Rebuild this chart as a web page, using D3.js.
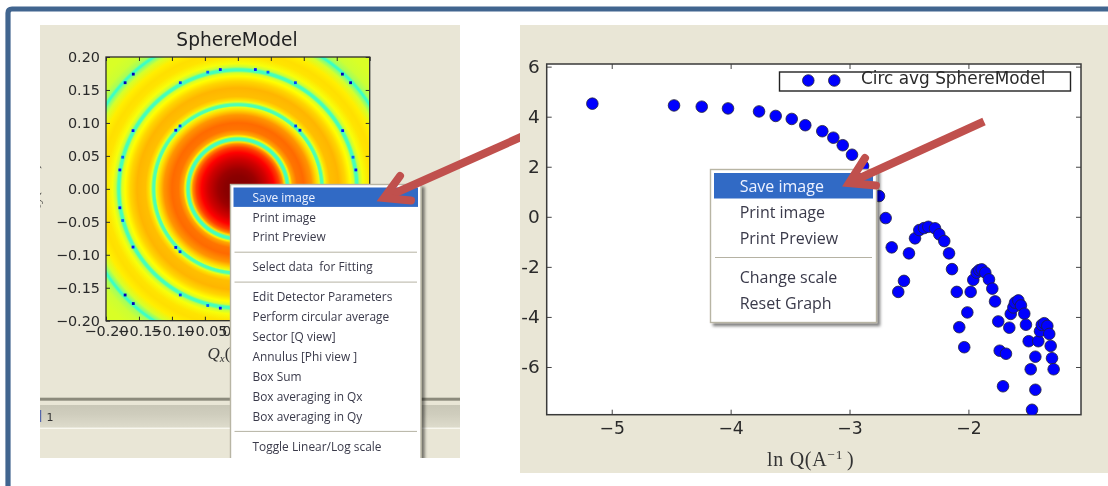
<!DOCTYPE html>
<html><head><meta charset="utf-8">
<script src="https://cdn.jsdelivr.net/npm/d3@7"></script>
<style>
html,body{margin:0;padding:0;background:#fff;overflow:hidden}
svg{display:block;filter:blur(0.4px)}
text{font-family:"DejaVu Sans",sans-serif}
.menu text{font-family:"Open Sans",sans-serif;fill:#3a3a4a}
text.serif{font-family:"Liberation Serif",serif}
</style></head><body>
<svg id="c" width="1108" height="486"></svg>
<script>
// ---- radial profile of the SphereModel intensity map (read outward from the centre)
const ringQ = [0,.02,.03,.045,.055,.063,.068,.071,.074,.077,.08,.083,.09,.1,.112,.12,.124,.126,.129,.132,.135,.14,.153,.163,.171,.176,.179,.182,.185,.19,.2,.208,.218,.228,.234,.236,.238,.241,.25,.265,.285];
const ringLevel = [1,.99,.975,.93,.89,.83,.76,.68,.43,.43,.66,.73,.78,.79,.75,.68,.62,.44,.44,.62,.68,.71,.72,.69,.65,.60,.43,.43,.58,.64,.675,.68,.665,.6,.5,.42,.42,.54,.59,.605,.605];
// low-intensity pixels lying on the rings (|Qx|, |Qy|)
const speckQx = [.0266,.0457,.0873,.1586,.171,.159,.1747,.179,.0877,.0942];
const speckQy = [.181,.177,.161,.174,.161,.0883,.048,.0287,.0954,.0889];
const speckLevel = [.13,.2,.17,.05,.05,.13,.2,.13,.17,.13];
const speckSignX = [-1,1,-1,1];
const speckSignY = [1,1,-1,-1];
const heatTicks = [-.2,-.15,-.1,-.05,0,.05,.1,.15,.2];
// ---- circular average
const lnQ = [-5.163,-4.476,-4.243,-4.022,-3.761,-3.621,-3.486,-3.372,-3.229,-3.136,-3.057,-2.979,-2.886,-2.828,-2.752,-2.696,-2.645,-2.590,-2.542,-2.500,-2.449,-2.413,-2.373,-2.337,-2.281,-2.245,-2.203,-2.163,-2.138,-2.098,-2.077,-2.035,-2.009,-1.981,-1.959,-1.931,-1.909,-1.888,-1.858,-1.827,-1.799,-1.776,-1.749,-1.737,-1.684,-1.709,-1.656,-1.644,-1.622,-1.608,-1.580,-1.558,-1.530,-1.516,-1.493,-1.476,-1.465,-1.437,-1.437,-1.412,-1.398,-1.383,-1.362,-1.336,-1.320,-1.308,-1.297,-1.283];
const lnI = [4.52,4.45,4.40,4.33,4.21,4.03,3.91,3.66,3.42,3.16,2.86,2.48,2.03,1.35,.83,-.05,-1.22,-3.00,-2.56,-1.46,-.86,-.53,-.45,-.40,-.46,-.70,-.97,-1.46,-2.09,-3.00,-4.41,-5.21,-3.82,-3.00,-2.52,-2.23,-2.13,-2.10,-2.23,-2.50,-2.87,-3.38,-4.18,-5.35,-5.47,-6.77,-4.43,-3.88,-3.62,-3.43,-3.34,-3.54,-3.87,-4.31,-4.97,-6.09,-7.71,-6.91,-5.59,-4.97,-4.57,-4.32,-4.25,-4.36,-4.68,-5.16,-5.65,-6.09];
const xTickVals = [-5,-4,-3,-2];
const yTickVals = [-6,-4,-2,0,2,4,6];
const legendLabel = "Circ avg SphereModel";
// ---- context menus
const leftMenuItems = ["Save image","Print image","Print Preview",null,"Select data  for Fitting",null,"Edit Detector Parameters","Perform circular average","Sector [Q view]","Annulus [Phi view ]","Box Sum","Box averaging in Qx","Box averaging in Qy",null,"Toggle Linear/Log scale"];
const rightMenuItems = ["Save image","Print image","Print Preview",null,"Change scale","Reset Graph"];

const svg = d3.select("#c");
const panel = "#e9e6d6", ink = "#2b2b2b", arrowCol = "#c0504d";
const jet = d3.scaleLinear()
  .domain([0,.11,.35,.5,.65,.89,1])
  .range(["#00007f","#0000ff","#00ffff","#80ff80","#ffff00","#ff0000","#7f0000"]);
const defs = svg.append("defs");
const shadow = defs.append("filter").attr("id","sh").attr("x","-10%").attr("y","-10%").attr("width","125%").attr("height","125%");
shadow.append("feDropShadow").attr("dx",3).attr("dy",3).attr("stdDeviation",1.4).attr("flood-color","#000").attr("flood-opacity",.5);

// outer frame
svg.append("path").attr("d","M8,486V13Q8,9 12,9H1108").attr("fill","none").attr("stroke","#41658f").attr("stroke-width",5.2);

// ================= left panel
defs.append("clipPath").attr("id","leftClip").append("rect").attr("x",40).attr("y",25).attr("width",420).attr("height",433);
const L = svg.append("g").attr("clip-path","url(#leftClip)");
L.append("rect").attr("x",40).attr("y",25).attr("width",420).attr("height",433).attr("fill",panel);
L.append("text").attr("x",237).attr("y",45.5).attr("text-anchor","middle").attr("font-size",18.6).attr("fill","#222").text("SphereModel");

const hx = d3.scaleLinear().domain([-.2,.2]).range([106,369.7]);
const hy = d3.scaleLinear().domain([-.2,.2]).range([320.7,57]);
defs.append("clipPath").attr("id","heatClip").append("rect").attr("x",hx(-.2)).attr("y",hy(.2)).attr("width",hx(.2)-hx(-.2)).attr("height",hy(-.2)-hy(.2));
const qMax = d3.max(ringQ);
const grad = defs.append("radialGradient").attr("id","heat").attr("gradientUnits","userSpaceOnUse")
  .attr("cx",hx(0)).attr("cy",hy(0)).attr("r",hx(qMax)-hx(0));
grad.selectAll("stop").data(ringQ).join("stop")
  .attr("offset",d=>d/qMax).attr("stop-color",(d,i)=>jet(ringLevel[i]));
const H = L.append("g").attr("clip-path","url(#heatClip)");
H.append("circle").attr("cx",hx(0)).attr("cy",hy(0)).attr("r",hx(qMax)-hx(0)+2).attr("fill","url(#heat)");
speckSignX.forEach((sx,k)=>{
  H.append("g").selectAll("rect").data(speckQx).join("rect")
    .attr("x",d=>hx(sx*d)-1.4).attr("y",(d,i)=>hy(speckSignY[k]*speckQy[i])-1.4)
    .attr("width",2.8).attr("height",2.8).attr("fill",(d,i)=>jet(speckLevel[i]));
});
const fmtH = d=>{const s=d3.format(".2f")(Math.abs(d));return (d<0?"\u2212":"")+s;};
function styleAxis(g,fs,col){
  g.select(".domain").remove();
  g.selectAll("line").attr("stroke",col).attr("stroke-width",1);
  g.selectAll("text").attr("font-size",fs).attr("fill","#2a2a2a").attr("font-family","DejaVu Sans");
}
const hb = L.append("g").attr("transform",`translate(0,${hy(-.2)})`)
  .call(d3.axisBottom(hx).tickValues(heatTicks).tickFormat(fmtH).tickSizeInner(-4).tickSizeOuter(0).tickPadding(5));
styleAxis(hb,14.4,ink);
const ht = L.append("g").attr("transform",`translate(0,${hy(.2)})`)
  .call(d3.axisTop(hx).tickValues(heatTicks).tickFormat("").tickSizeInner(-4).tickSizeOuter(0));
styleAxis(ht,14.4,ink);
const hl = L.append("g").attr("transform",`translate(${hx(-.2)},0)`)
  .call(d3.axisLeft(hy).tickValues(heatTicks).tickFormat(fmtH).tickSizeInner(-4).tickSizeOuter(0).tickPadding(6));
styleAxis(hl,14.4,ink);
const hr = L.append("g").attr("transform",`translate(${hx(.2)},0)`)
  .call(d3.axisRight(hy).tickValues(heatTicks).tickFormat("").tickSizeInner(-4).tickSizeOuter(0));
styleAxis(hr,14.4,ink);
L.append("rect").attr("x",hx(-.2)).attr("y",hy(.2)).attr("width",hx(.2)-hx(-.2)).attr("height",hy(-.2)-hy(.2)).attr("fill","none").attr("stroke",ink).attr("stroke-width",1.3);
// axis titles
const xt = L.append("text").attr("class","serif").attr("x",207.5).attr("y",359).attr("font-size",17).attr("fill","#333");
xt.append("tspan").attr("font-style","italic").text("Q");
xt.append("tspan").attr("font-style","italic").attr("font-size",11).attr("dy",3).text("x");
xt.append("tspan").attr("dy",-3).text("(A");
const yt = L.append("text").attr("class","serif").attr("transform","translate(38,189) rotate(-90)").attr("text-anchor","middle").attr("font-size",17).attr("fill","#333");
yt.append("tspan").attr("font-style","italic").text("Q");
yt.append("tspan").attr("font-style","italic").attr("font-size",11).attr("dy",3).text("y");
yt.append("tspan").attr("dy",-3).text("(A\u207B\u00B9)");
// status bar
const sg = defs.append("linearGradient").attr("id","bar").attr("x1",0).attr("x2",0).attr("y1",0).attr("y2",1);
sg.append("stop").attr("offset",0).attr("stop-color","#c9c7b7");
sg.append("stop").attr("offset",.4).attr("stop-color","#cfcdbd");
sg.append("stop").attr("offset",1).attr("stop-color","#dedccc");
L.append("rect").attr("x",40).attr("y",397.7).attr("width",420).attr("height",3).attr("fill","#8c8a7c");
L.append("rect").attr("x",40).attr("y",405).attr("width",420).attr("height",23).attr("fill","url(#bar)");
L.append("rect").attr("x",40).attr("y",427.6).attr("width",420).attr("height",1.3).attr("fill","#fbfaf2");
L.append("rect").attr("x",40).attr("y",410).attr("width",1.2).attr("height",12).attr("fill","#5566aa");
L.append("text").attr("x",46.5).attr("y",420.5).attr("font-size",11).attr("fill","#333").text("1");

function drawMenu(parent,o,items){
  const m = parent.append("g").attr("class","menu");
  m.append("rect").attr("x",o.x).attr("y",o.y).attr("width",o.w).attr("height",o.h)
    .attr("fill","#fff").attr("stroke","#b8b5a4").attr("stroke-width",1.4).attr("filter","url(#sh)");
  m.append("rect").attr("x",o.x+o.pad).attr("y",o.y+o.pad).attr("width",o.w-2*o.pad).attr("height",o.rowH-.5).attr("fill","#316ac5");
  let y=o.y+o.pad;
  items.forEach((t,i)=>{
    if(t===null){
      m.append("line").attr("x1",o.x+o.pad+1).attr("x2",o.x+o.w-o.pad-1).attr("y1",y+o.sepH/2).attr("y2",y+o.sepH/2).attr("stroke","#b5b2a3").attr("stroke-width",1);
      y+=o.sepH;
    } else {
      m.append("text").attr("x",o.textX).attr("y",y+o.rowH/2).attr("dy",".35em").attr("font-size",o.fs)
        .style("white-space","pre").style("fill",i===0?"#eef2ff":null).text(t);
      y+=o.rowH;
    }
  });
}
drawMenu(L,{x:230.5,y:184.5,w:190.5,h:300,pad:3,rowH:19.9,sepH:10,textX:252.5,fs:11.9},leftMenuItems);

function arrow(parent,tail,tip,b1,b2,w){
  parent.append("path").attr("d",`M${tail}L${tip}`).attr("fill","none").attr("stroke",arrowCol).attr("stroke-width",w);
  parent.append("path").attr("d",`M${b1}L${tip}L${b2}`).attr("fill","none").attr("stroke",arrowCol).attr("stroke-width",w).attr("stroke-linecap","round").attr("stroke-linejoin","miter");
}
arrow(svg,[530,133],[384,198],[400,176],[411,200.5],8);

// ================= right panel
svg.append("rect").attr("x",520).attr("y",25).attr("width",588).attr("height",448).attr("fill",panel);
const px = d3.scaleLinear().domain([-5.547,-1.053]).range([546.7,1081]);
const py = d3.scaleLinear().domain([-7.906,6.105]).range([414.7,64]);
const R = svg.append("g");
defs.append("clipPath").attr("id","plotClip").append("rect").attr("x",px.range()[0]).attr("y",py.range()[1]).attr("width",px.range()[1]-px.range()[0]).attr("height",py.range()[0]-py.range()[1]);
R.append("rect").attr("x",546.7).attr("y",64).attr("width",534.3).attr("height",350.7).attr("fill","#fff");
const fmtX = d=>"\u2212"+Math.abs(d);
const fmtY = d=>String(d);
const rb = R.append("g").attr("transform",`translate(0,${py.range()[0]})`)
  .call(d3.axisBottom(px).tickValues(xTickVals).tickFormat(fmtX).tickSizeInner(-5).tickSizeOuter(0).tickPadding(7));
styleAxis(rb,17.2,"#444");
const rt = R.append("g").attr("transform",`translate(0,${py.range()[1]})`)
  .call(d3.axisTop(px).tickValues(xTickVals).tickFormat("").tickSizeInner(-5).tickSizeOuter(0));
styleAxis(rt,17.2,"#444");
const rl = R.append("g").attr("transform",`translate(${px.range()[0]},0)`)
  .call(d3.axisLeft(py).tickValues(yTickVals).tickFormat(fmtY).tickSizeInner(-5).tickSizeOuter(0).tickPadding(7));
styleAxis(rl,18.5,"#444");
const rr = R.append("g").attr("transform",`translate(${px.range()[1]},0)`)
  .call(d3.axisRight(py).tickValues(yTickVals).tickFormat("").tickSizeInner(-5).tickSizeOuter(0));
styleAxis(rr,18.5,"#444");
R.append("rect").attr("x",546.7).attr("y",64).attr("width",534.3).attr("height",350.7).attr("fill","none").attr("stroke","#3a3a3a").attr("stroke-width",1.5);
R.append("g").attr("clip-path","url(#plotClip)").selectAll("circle").data(lnQ).join("circle")
  .attr("cx",d=>px(d)).attr("cy",(d,i)=>py(lnI[i])).attr("r",5.8)
  .attr("fill","#0000ff").attr("stroke","#22223a").attr("stroke-width",.8);
// legend
R.append("rect").attr("x",779.5).attr("y",72).attr("width",291).attr("height",19).attr("fill","#fff").attr("stroke","#222").attr("stroke-width",1.4);
R.append("g").selectAll("circle").data([808.3,834.3]).join("circle")
  .attr("cx",d=>d).attr("cy",80.5).attr("r",5.8).attr("fill","#0000ff").attr("stroke","#22223a").attr("stroke-width",.8);
R.append("text").attr("x",861).attr("y",83.5).attr("font-size",16.9).attr("fill","#2a2a2a").text(legendLabel);
// x title
const rx = R.append("text").attr("class","serif").attr("x",767).attr("y",466).attr("font-size",20).attr("letter-spacing",.7).attr("fill","#333");
rx.append("tspan").text("ln Q(A");
rx.append("tspan").attr("font-size",13.5).attr("dy",-7).text("\u22121");
rx.append("tspan").attr("dy",7).attr("dx",4).text(")");

drawMenu(R,{x:710.5,y:169.5,w:166,h:153,pad:3.5,rowH:26,sepH:13,textX:739.7,fs:16},rightMenuItems);
arrow(svg,[984,121.5],[849,183],[865,158],[876,185.5],8);
</script>
</body></html>
